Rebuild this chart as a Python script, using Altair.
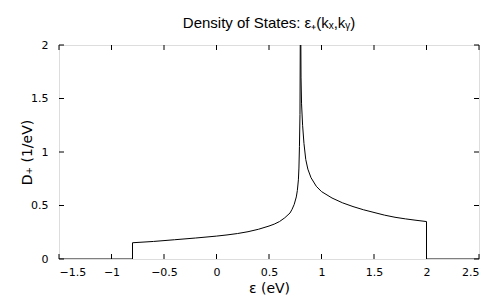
import altair as alt
import pandas as pd

# Density of states curve (energy in eV, DOS in 1/eV)
energy = [-1.5, -0.8, -0.8, -0.7, -0.6, -0.5, -0.4, -0.3, -0.2, -0.1, 0.0,
          0.1, 0.2, 0.3, 0.4, 0.5, 0.55, 0.6, 0.65, 0.7, 0.72, 0.74, 0.76, 0.77,
          0.78, 0.785, 0.79, 0.795, 0.8, 0.805, 0.81, 0.82, 0.833, 0.85,
          0.87, 0.9, 0.95, 1.0, 1.1, 1.2, 1.3, 1.4, 1.5, 1.6, 1.7, 1.8,
          1.9, 2.0, 2.0, 2.5]
dos = [0.0, 0.0, 0.152, 0.158, 0.164, 0.172, 0.180, 0.188, 0.196, 0.205, 0.214,
       0.225, 0.238, 0.255, 0.278, 0.308, 0.326, 0.350, 0.385, 0.430, 0.465, 0.51, 0.58, 0.64,
       0.740, 0.850, 1.05, 1.35, 2.6, 1.70, 1.45, 1.25, 1.08, 0.93,
       0.84, 0.76, 0.68, 0.63, 0.57, 0.525, 0.49, 0.46, 0.435, 0.41, 0.39, 0.375,
       0.362, 0.350, 0.0, 0.0]

x_ticks = [-1.5, -1.0, -0.5, 0.0, 0.5, 1.0, 1.5, 2.0, 2.5]
y_ticks = [0.0, 0.5, 1.0, 1.5, 2.0]

W, H = 420, 214

curve = pd.DataFrame({"e": energy, "d": dos, "i": list(range(len(energy)))})
xt = pd.DataFrame({"t": x_ticks})
yt = pd.DataFrame({"t": y_ticks})

xscale = alt.Scale(domain=[-1.5, 2.5], nice=False, zero=False)
yscale = alt.Scale(domain=[0, 2], nice=False, zero=False)

line = alt.Chart(curve).mark_line(color="black", strokeWidth=1, clip=True).encode(
    x=alt.X("e:Q", scale=xscale,
            axis=alt.Axis(values=x_ticks, title="ε (eV)", grid=False, domain=False,
                          ticks=False, tickSize=0, labelPadding=7, format="~g",
                          labelFont="DejaVu Sans", labelFontSize=11, labelColor="black",
                          titleFont="DejaVu Sans", titleFontSize=14, titleFontWeight="normal",
                          titleColor="black", titleY=33, titleBaseline="alphabetic")),
    y=alt.Y("d:Q", scale=yscale,
            axis=alt.Axis(values=y_ticks, title="D₊ (1/eV)", grid=False, domain=False,
                          ticks=False, tickSize=0, labelPadding=11, format="~g",
                          labelFont="DejaVu Sans", labelFontSize=11, labelColor="black",
                          titleFont="DejaVu Sans", titleFontSize=14, titleFontWeight="normal",
                          titleColor="black", titleX=-32, titleY=H / 2, titleAngle=-90,
                          titleBaseline="middle", titleAlign="center")),
    order="i:Q",
)

tick_x_bottom = alt.Chart(xt).mark_rule(color="black", strokeWidth=1).encode(
    x=alt.X("t:Q", scale=xscale), y=alt.value(H), y2=alt.value(H - 5))
tick_x_top = alt.Chart(xt).mark_rule(color="black", strokeWidth=1).encode(
    x=alt.X("t:Q", scale=xscale), y=alt.value(0), y2=alt.value(5))
tick_y_left = alt.Chart(yt).mark_rule(color="black", strokeWidth=1).encode(
    y=alt.Y("t:Q", scale=yscale), x=alt.value(0), x2=alt.value(5))
tick_y_right = alt.Chart(yt).mark_rule(color="black", strokeWidth=1).encode(
    y=alt.Y("t:Q", scale=yscale), x=alt.value(W), x2=alt.value(W - 5))

chart = alt.layer(line, tick_x_bottom, tick_x_top, tick_y_left, tick_y_right).properties(
    width=W, height=H,
    title=alt.TitleParams("Density of States: ε₊(kₓ,kᵧ)", font="Liberation Sans",
                          fontSize=15, fontWeight="normal", color="black",
                          anchor="middle", frame="group", baseline="bottom", offset=14,
                          dy=21),
    autosize=alt.AutoSizeParams(type="none"),
    padding={"left": 51, "top": 37, "right": 12, "bottom": 40},
).configure_view(stroke="black", strokeWidth=1).configure(background="white")

chart.save("out.html", embed_options={"renderer": "svg", "actions": False})
